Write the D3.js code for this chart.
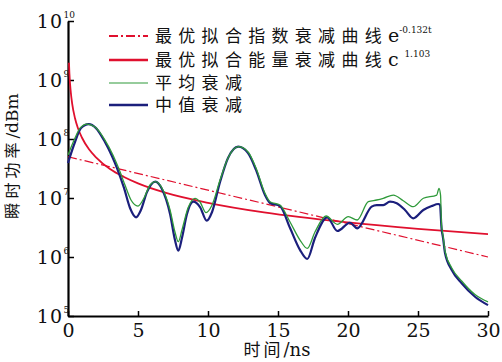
<!DOCTYPE html>
<html>
<head>
<meta charset="utf-8">
<script src="https://cdn.jsdelivr.net/npm/d3@7"></script>
<style>
  body { margin: 0; background: #fff; }
  svg { display: block; }
</style>
</head>
<body>
<div id="chart"></div>
<script>
// time axis (ns) and instantaneous power
const avgTime = [0, 0.5, 0.86, 1.36, 1.93, 2.64, 3.21, 3.62, 4.07, 4.5, 5.0, 5.43, 5.86, 6.24, 6.71, 7.29, 7.64, 7.88, 8.14, 8.57, 9.07, 9.43, 9.86, 10.29, 10.86, 11.43, 12.16, 12.86, 13.43, 14.07, 14.43, 15.14, 15.86, 16.57, 17.09, 17.64, 18.43, 19.24, 20.02, 20.66, 21.45, 22.05, 22.52, 23.24, 23.95, 24.66, 25.38, 26.34, 26.5, 26.61, 26.68, 26.79, 26.93, 27.41, 28.12, 29.07, 30];
const avgPower = [5.36e7, 1.04e8, 1.53e8, 1.79e8, 1.6e8, 9.6e7, 5.36e7, 3.18e7, 1.66e7, 9.25e6, 7.31e6, 1.0e7, 1.66e7, 1.89e7, 1.48e7, 6.27e6, 2.65e6, 1.82e6, 2.87e6, 6.76e6, 9.89e6, 8.55e6, 5.64e6, 7.6e6, 2.02e7, 4.76e7, 7.4e7, 6.03e7, 3.22e7, 1.2e7, 8.65e6, 7.6e6, 3.92e6, 1.94e6, 1.4e6, 2.65e6, 4.95e6, 3.58e6, 4.82e6, 4.24e6, 8.65e6, 9.25e6, 9.89e6, 1.12e7, 9.0e6, 7.13e6, 9.89e6, 1.12e7, 1.46e7, 1.12e7, 3.48e6, 2.27e6, 1.26e6, 6.52e5, 3.92e5, 2.31e5, 1.73e5];

const medTime = [0, 0.5, 0.93, 1.48, 2.0, 2.64, 3.14, 3.5, 4.0, 4.43, 4.86, 5.21, 5.64, 6.24, 6.71, 7.29, 7.64, 7.88, 8.14, 8.5, 8.95, 9.43, 9.91, 10.29, 10.86, 11.43, 12.16, 12.86, 13.43, 14.07, 14.43, 15.14, 15.86, 16.57, 17.09, 17.64, 18.52, 19.24, 20.14, 20.66, 21.69, 22.05, 22.52, 23.0, 23.48, 24.07, 24.66, 25.38, 25.98, 26.45, 26.57, 26.68, 26.79, 26.93, 27.41, 28.12, 29.07, 30];
const medPower = [3.92e7, 8.89e7, 1.53e8, 1.79e8, 1.53e8, 8.89e7, 5.15e7, 3.22e7, 1.48e7, 6.76e6, 4.71e6, 6.27e6, 1.26e7, 1.89e7, 1.42e7, 5.36e6, 1.94e6, 1.28e6, 2.1e6, 5.36e6, 8.65e6, 7.03e6, 4.12e6, 5.79e6, 1.87e7, 4.76e7, 7.4e7, 5.79e7, 2.99e7, 1.12e7, 8.22e6, 7.31e6, 3.1e6, 1.32e6, 9.25e5, 2.1e6, 4.71e6, 2.76e6, 3.81e6, 3.06e6, 7.13e6, 7.6e6, 7.6e6, 8.65e6, 8.13e6, 6.27e6, 4.53e6, 6.27e6, 7.31e6, 7.91e6, 7.6e6, 3.09e6, 2.1e6, 1.17e6, 6.03e5, 3.58e5, 2.12e5, 1.53e5];

const powFitTime = [0.07, 0.1, 0.2, 0.3, 0.5, 0.7, 1, 1.5, 2, 3, 4, 5, 7, 10, 14, 20, 25, 30];
const powFitValue = [1.96e9, 1.3e9, 6.2e8, 3.95e8, 2.25e8, 1.55e8, 1.05e8, 6.7e7, 4.9e7, 3.1e7, 2.27e7, 1.77e7, 1.22e7, 8.3e6, 5.7e6, 3.85e6, 3.0e6, 2.45e6];

const expFitTime = [0, 30];
const expFitValue = [5.0e7, 1.0e6];

const xTicks = [0, 5, 10, 15, 20, 25, 30];
const yTickExps = [5, 6, 7, 8, 9, 10];

const legendNames = ["最优拟合指数衰减曲线", "最优拟合能量衰减曲线", "平均衰减", "中值衰减"];
const legendTails = ["e", "c", "", ""];
const legendSups = ["-0.132t", "  1.103", "", ""];

const W = 502, H = 362;
const margin = { top: 21, right: 14, bottom: 46, left: 68 };
const serif = "DejaVu Serif, Liberation Serif, serif";
const cjk = "Noto Sans CJK SC, sans-serif";

const svg = d3.select("#chart").append("svg")
  .attr("width", W)
  .attr("height", H);

const x = d3.scaleLinear().domain([0, 30]).range([margin.left, W - margin.right]);
const y = d3.scaleLog().domain([1e5, 1e10]).range([H - margin.bottom, margin.top]);

// axes, ticks pointing inward
const xAxis = svg.append("g")
  .attr("transform", "translate(0," + (H - margin.bottom) + ")")
  .call(d3.axisBottom(x).tickValues(xTicks).tickSizeInner(-5).tickSizeOuter(0).tickPadding(8).tickFormat(d3.format("d")));
xAxis.select(".domain").attr("stroke", "#000").attr("stroke-width", 2.2);
xAxis.selectAll(".tick line").attr("stroke", "#000").attr("stroke-width", 1.5);
xAxis.selectAll("text")
  .attr("font-family", serif)
  .attr("font-size", 19)
  .attr("fill", "#111");

const yAxis = svg.append("g")
  .attr("transform", "translate(" + margin.left + ",0)")
  .call(d3.axisLeft(y).tickValues(yTickExps.map(e => Math.pow(10, e))).tickSizeInner(-6).tickSizeOuter(0).tickFormat(""));
yAxis.select(".domain").attr("stroke", "#000").attr("stroke-width", 2.2);
yAxis.selectAll(".tick line").attr("stroke", "#000").attr("stroke-width", 1.5);

// y tick labels as 10 with superscript exponent
yTickExps.forEach(e => {
  const ty = y(Math.pow(10, e));
  svg.append("text")
    .attr("x", 63).attr("y", ty + 7)
    .attr("text-anchor", "end")
    .attr("font-family", serif)
    .attr("font-size", 19)
    .attr("letter-spacing", 1)
    .attr("fill", "#111")
    .text("10");
  svg.append("text")
    .attr("x", 63.5).attr("y", ty - 3)
    .attr("font-family", serif)
    .attr("font-size", 9)
    .attr("fill", "#111")
    .text(e);
});

// axis titles
const yTitle = svg.append("text")
  .attr("transform", "translate(18,156) rotate(-90)")
  .attr("text-anchor", "middle")
  .attr("fill", "#111");
yTitle.append("tspan")
  .attr("font-family", cjk)
  .attr("font-size", 16)
  .attr("letter-spacing", 4)
  .text("瞬时功率");
yTitle.append("tspan")
  .attr("font-family", serif)
  .attr("font-size", 17)
  .text("/dBm");

const xTitle = svg.append("text")
  .attr("x", 277).attr("y", 356)
  .attr("text-anchor", "middle")
  .attr("fill", "#111");
xTitle.append("tspan")
  .attr("font-family", cjk)
  .attr("font-size", 17)
  .attr("letter-spacing", 3)
  .text("时间");
xTitle.append("tspan")
  .attr("font-family", serif)
  .attr("font-size", 18)
  .text("/ns");

const line = d3.line()
  .x(d => x(d[0]))
  .y(d => y(d[1]))
  .curve(d3.curveMonotoneX);

const zip = (a, b) => a.map((v, i) => [v, b[i]]);

const red = "#e0102e";
const green = "#2f9a3a";
const navy = "#1b1f7c";

svg.append("path")
  .datum(zip(expFitTime, expFitValue))
  .attr("d", line)
  .attr("fill", "none")
  .attr("stroke", red)
  .attr("stroke-width", 1.2)
  .attr("stroke-dasharray", "9,3,2,3");

svg.append("path")
  .datum(zip(powFitTime, powFitValue))
  .attr("d", line)
  .attr("fill", "none")
  .attr("stroke", red)
  .attr("stroke-width", 1.8);

svg.append("path")
  .datum(zip(medTime, medPower))
  .attr("d", line)
  .attr("fill", "none")
  .attr("stroke", navy)
  .attr("stroke-width", 2.2);

svg.append("path")
  .datum(zip(avgTime, avgPower))
  .attr("d", line)
  .attr("fill", "none")
  .attr("stroke", green)
  .attr("stroke-width", 1.3);

// legend
const legendStyle = [
  { color: red, width: 1.8, dash: "9,3,2,3" },
  { color: red, width: 2.5, dash: null },
  { color: green, width: 1.2, dash: null },
  { color: navy, width: 2.5, dash: null }
];
const legendRows = [36, 60, 83, 105];

legendNames.forEach((name, i) => {
  const ly = legendRows[i];
  svg.append("line")
    .attr("x1", 109).attr("x2", 148)
    .attr("y1", ly).attr("y2", ly)
    .attr("stroke", legendStyle[i].color)
    .attr("stroke-width", legendStyle[i].width)
    .attr("stroke-dasharray", legendStyle[i].dash);

  const t = svg.append("text")
    .attr("x", 155).attr("y", ly + 6)
    .attr("fill", "#111");
  t.append("tspan")
    .attr("font-family", cjk)
    .attr("font-size", 17)
    .attr("letter-spacing", 6.3)
    .text(name);
  if (legendTails[i]) {
    t.append("tspan")
      .attr("font-family", serif)
      .attr("font-size", 19)
      .text(legendTails[i]);
    t.append("tspan")
      .attr("font-family", serif)
      .attr("font-size", 9)
      .attr("dy", -9)
      .style("white-space", "pre")
      .text(legendSups[i]);
  }
});
</script>
</body>
</html>
